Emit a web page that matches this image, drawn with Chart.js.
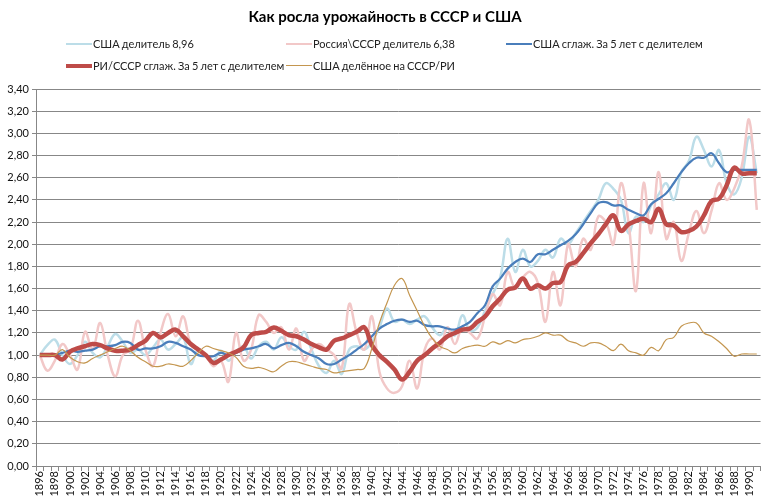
<!DOCTYPE html>
<html>
<head>
<meta charset="utf-8">
<script src="https://cdn.jsdelivr.net/npm/chart.js@4"></script>
<style>
  body { margin: 0; background: #fff; }
  #wrap { position: relative; width: 770px; height: 502px; font-family: Lato, 'Liberation Sans', sans-serif; }
  #title { position: absolute; left: 0; width: 770px; top: 7px; text-align: center; font-weight: bold; font-size: 15px; color: #000; }
  .leg { position: absolute; font-size: 11px; word-spacing: -0.6px; color: #222; white-space: nowrap; line-height: 14px; }
  .leg span.sw { position: absolute; left: -27px; width: 26px; top: 7px; }
</style>
</head>
<body>
<div id="wrap">
  <div id="title">Как росла урожайность в СССР и США</div>
  <div id="legend"></div>
  <canvas id="myChart" width="770" height="502"></canvas>
</div>
<script>
const years = [
  1896, 1897, 1898, 1899, 1900, 1901, 1902, 1903, 1904, 1905, 1906, 1907, 1908, 1909, 1910, 1911,
  1912, 1913, 1914, 1915, 1916, 1917, 1918, 1919, 1920, 1921, 1922, 1923, 1924, 1925, 1926, 1927,
  1928, 1929, 1930, 1931, 1932, 1933, 1934, 1935, 1936, 1937, 1938, 1939, 1940, 1941, 1942, 1943,
  1944, 1945, 1946, 1947, 1948, 1949, 1950, 1951, 1952, 1953, 1954, 1955, 1956, 1957, 1958, 1959,
  1960, 1961, 1962, 1963, 1964, 1965, 1966, 1967, 1968, 1969, 1970, 1971, 1972, 1973, 1974, 1975,
  1976, 1977, 1978, 1979, 1980, 1981, 1982, 1983, 1984, 1985, 1986, 1987, 1988, 1989, 1990, 1991
]

// США делитель 8,96
const usaRaw = [
  1.00, 1.09, 1.14, 1.00, 0.92, 1.00, 1.12, 1.02, 0.98, 1.08, 1.19, 1.12, 1.02, 1.05, 1.00, 1.07,
  1.14, 1.05, 1.10, 1.16, 0.92, 1.05, 1.00, 0.95, 1.04, 0.95, 1.03, 1.08, 0.97, 1.08, 1.12, 1.05,
  1.16, 1.08, 1.05, 1.21, 1.05, 0.90, 0.84, 0.95, 0.83, 1.05, 1.08, 1.05, 1.12, 1.25, 1.42, 1.30,
  1.32, 1.28, 1.32, 1.35, 1.25, 1.18, 1.25, 1.18, 1.36, 1.22, 1.25, 1.40, 1.55, 1.70, 2.05, 1.75,
  1.95, 1.80, 1.85, 1.95, 1.88, 2.05, 2.00, 2.10, 2.20, 2.30, 2.40, 2.55, 2.50, 2.40, 2.10, 2.25,
  2.20, 2.35, 2.45, 2.55, 2.40, 2.65, 2.75, 2.97, 2.85, 2.70, 2.85, 2.55, 2.45, 2.60, 2.97, 2.64
]

// Россия\СССР делитель 6,38
const russiaRaw = [
  1.00, 0.86, 0.95, 1.10, 1.00, 0.87, 1.21, 1.05, 1.29, 1.00, 0.81, 1.00, 1.05, 1.31, 1.05, 0.90,
  1.20, 1.37, 1.17, 1.35, 1.10, 1.05, 1.00, 0.90, 0.95, 0.76, 1.20, 0.95, 1.05, 1.36, 1.30, 1.20,
  1.25, 1.05, 1.24, 0.95, 1.05, 1.10, 1.05, 1.00, 0.88, 1.46, 1.20, 1.05, 1.35, 0.85, 0.70, 0.66,
  0.72, 0.95, 0.70, 1.05, 1.15, 1.05, 1.25, 1.10, 1.25, 1.20, 1.15, 1.35, 1.55, 1.45, 1.75, 1.60,
  1.70, 1.75, 1.65, 1.30, 1.75, 1.45, 2.00, 1.80, 2.05, 1.95, 2.25, 2.20, 2.00, 2.55, 2.20, 1.58,
  2.55, 2.10, 2.65, 2.05, 2.20, 1.85, 2.10, 2.30, 2.10, 2.30, 2.55, 2.40, 2.50, 2.70, 3.12, 2.31
]

// США сглаж. за 5 лет
const usaSmooth = [
  null, null, 1.00, 1.02, 1.04, 1.03, 1.04, 1.05, 1.08, 1.08, 1.09, 1.12, 1.11, 1.05, 1.06, 1.06,
  1.08, 1.12, 1.11, 1.08, 1.05, 1.00, 0.99, 0.99, 1.02, 1.00, 1.02, 1.05, 1.06, 1.08, 1.10, 1.06,
  1.09, 1.11, 1.08, 1.03, 1.00, 0.97, 0.92, 0.92, 0.96, 1.00, 1.05, 1.10, 1.17, 1.24, 1.28, 1.31,
  1.32, 1.30, 1.31, 1.27, 1.26, 1.26, 1.24, 1.23, 1.26, 1.30, 1.38, 1.45, 1.62, 1.69, 1.78, 1.84,
  1.87, 1.84, 1.91, 1.91, 1.95, 1.99, 2.03, 2.09, 2.18, 2.28, 2.37, 2.38, 2.35, 2.35, 2.31, 2.28,
  2.26, 2.36, 2.41, 2.46, 2.55, 2.65, 2.73, 2.78, 2.78, 2.82, 2.73, 2.65, 2.67, 2.67, 2.67, 2.67
]

// РИ/СССР сглаж. за 5 лет
const russiaSmooth = [
  1.00, 1.00, 1.00, 0.96, 1.03, 1.06, 1.08, 1.10, 1.09, 1.06, 1.04, 1.04, 1.05, 1.09, 1.13, 1.20,
  1.16, 1.20, 1.23, 1.17, 1.10, 1.05, 1.00, 0.93, 0.96, 1.00, 1.03, 1.07, 1.18, 1.20, 1.21, 1.25,
  1.22, 1.18, 1.17, 1.14, 1.10, 1.07, 1.05, 1.13, 1.15, 1.18, 1.21, 1.25, 1.09, 1.00, 0.94, 0.87,
  0.78, 0.85, 0.95, 1.00, 1.06, 1.11, 1.17, 1.20, 1.23, 1.24, 1.30, 1.35, 1.44, 1.51, 1.59, 1.61,
  1.69, 1.60, 1.63, 1.60, 1.65, 1.66, 1.81, 1.84, 1.92, 2.01, 2.09, 2.18, 2.26, 2.12, 2.18, 2.21,
  2.23, 2.20, 2.32, 2.18, 2.17, 2.11, 2.12, 2.16, 2.26, 2.39, 2.41, 2.53, 2.69, 2.64, 2.64, 2.64
]

// США делённое на СССР/РИ
const usaByRussia = [
  1.00, 1.00, 1.00, 1.05, 0.98, 0.94, 0.93, 0.97, 1.00, 1.03, 1.06, 1.08, 1.04, 0.98, 0.94, 0.90,
  0.90, 0.92, 0.91, 0.90, 0.95, 1.02, 1.08, 1.06, 1.04, 1.02, 0.98, 0.90, 0.88, 0.89, 0.87, 0.85,
  0.90, 0.94, 0.94, 0.92, 0.90, 0.88, 0.87, 0.84, 0.85, 0.86, 0.87, 0.88, 1.06, 1.29, 1.47, 1.63,
  1.69, 1.54, 1.40, 1.26, 1.15, 1.08, 1.05, 1.02, 1.06, 1.08, 1.09, 1.08, 1.12, 1.10, 1.13, 1.11,
  1.14, 1.15, 1.17, 1.20, 1.18, 1.18, 1.13, 1.11, 1.08, 1.11, 1.11, 1.08, 1.04, 1.10, 1.04, 1.02,
  1.00, 1.07, 1.04, 1.14, 1.16, 1.26, 1.29, 1.29, 1.20, 1.17, 1.12, 1.06, 0.99, 1.01, 1.01, 1.01
]

const seriesNames = [
  'США делитель 8,96',
  'Россия\\СССР делитель 6,38',
  'США сглаж. За 5 лет с делителем',
  'РИ/СССР сглаж. За 5 лет с делителем',
  'США делённое на СССР/РИ'
]

const gridColor = '#878787'
const tickFont = { family: 'Lato, "Liberation Sans", sans-serif', size: 11 }

const line = (label, data, color, width, order) => ({
  label,
  data,
  borderColor: color,
  backgroundColor: color,
  borderWidth: width,
  pointRadius: 0,
  tension: 0.4,
  fill: false,
  order
})

const datasets = [
  line(seriesNames[0], usaRaw, '#BCDDE8', 2.5, 5),
  line(seriesNames[1], russiaRaw, '#F2C8C8', 2.5, 4),
  line(seriesNames[2], usaSmooth, '#4A7EBB', 2.25, 3),
  line(seriesNames[3], russiaSmooth, '#BE4B48', 4.5, 2),
  line(seriesNames[4], usaByRussia, '#C4964F', 1.2, 1)
]

// legend in Excel style columns
const legendPos = [[93, 44], [313, 44], [533, 44], [93, 66], [313, 66]]
const legendEl = document.getElementById('legend')
datasets.forEach((ds, i) => {
  const div = document.createElement('div')
  div.className = 'leg'
  div.style.left = legendPos[i][0] + 'px'
  div.style.top = (legendPos[i][1] - 7) + 'px'
  const sw = document.createElement('span')
  sw.className = 'sw'
  sw.style.borderTop = ds.borderWidth + 'px solid ' + ds.borderColor
  sw.style.marginTop = (-ds.borderWidth / 2) + 'px'
  div.appendChild(sw)
  div.appendChild(document.createTextNode(ds.label))
  legendEl.appendChild(div)
})

const myChart = new Chart(document.getElementById('myChart'), {
  type: 'line',
  data: { labels: years.map(String), datasets },
  options: {
    responsive: false,
    animation: false,
    layout: { padding: { top: 89, right: 4, left: 0, bottom: 0 } },
    plugins: {
      legend: { display: false },
      title: { display: false },
      tooltip: { enabled: false }
    },
    scales: {
      x: {
        type: 'category',
        offset: true,
        grid: { offset: true, drawOnChartArea: false, color: gridColor, tickLength: 5 },
        border: { color: gridColor },
        ticks: {
          autoSkip: false,
          minRotation: 90,
          maxRotation: 90,
          padding: 0,
          color: '#111',
          font: tickFont,
          callback: function (value, index) {
            return index % 2 === 0 ? String(years[index]) : ''
          }
        },
        afterFit: function (scale) { scale.height = 36 }
      },
      y: {
        min: 0,
        max: 3.4,
        grid: { color: gridColor, tickLength: 4 },
        border: { color: gridColor },
        ticks: {
          stepSize: 0.2,
          padding: 3,
          color: '#111',
          font: tickFont,
          callback: function (value) {
            return value.toFixed(2).replace('.', ',')
          }
        },
        afterFit: function (scale) { scale.width = 36 }
      }
    }
  }
})
</script>
</body>
</html>
